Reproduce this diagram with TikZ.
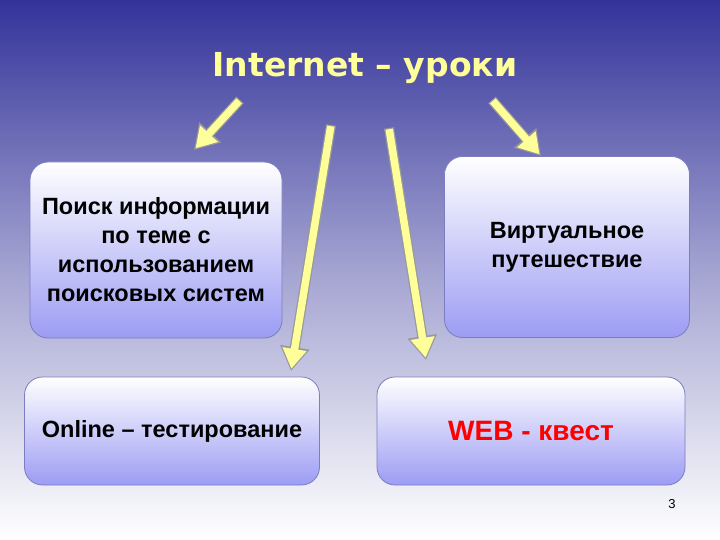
\documentclass[tikz,border=0pt]{standalone}
\usepackage{fontspec}
\setmainfont{Liberation Sans}
\newfontfamily\titlefont{DejaVu Sans}
\usetikzlibrary{arrows.meta}
\definecolor{bgtop}{HTML}{33339A}
\definecolor{boxb}{HTML}{9C9CF4}
\definecolor{edge}{HTML}{7C7CC0}
\definecolor{arr}{HTML}{FFFF99}
\definecolor{ttl}{HTML}{FFFF99}
\tikzset{
 box/.style={draw=edge,line width=0.8pt,rounded corners=18pt,top color=white,bottom color=boxb,align=center,font=\bfseries\fontsize{23.5}{29}\selectfont,inner sep=0pt},
 arrout/.style={draw=gray!80,line width=10pt,-{Triangle[width=28pt,length=24pt]}},
 arrin/.style={draw=arr,line width=7.5pt,-{Triangle[width=23pt,length=20pt]},shorten <=1.2pt,shorten >=2.2pt},
}
\begin{document}
\begin{tikzpicture}[x=1pt,y=-1pt]
\shade[top color=bgtop,bottom color=white,middle color=bgtop!45!white] (0,0) rectangle (720,540);
\useasboundingbox (0,0) rectangle (720,540);
\node[font=\titlefont\bfseries\fontsize{33}{38}\selectfont,text=ttl] (title) at (365,68) {Internet – уроки};
\node[box,minimum width=252pt,minimum height=176pt] (b1) at (156,250) {Поиск информации\\по теме с\\использованием\\поисковых систем};
\node[box,minimum width=245pt,minimum height=181pt] (b2) at (567,247) {Виртуальное\\путешествие};
\node[box,minimum width=295pt,minimum height=108pt] (b3) at (172,431) {Online – тестирование};
\node[box,minimum width=308pt,minimum height=108pt,font=\bfseries\fontsize{28}{32}\selectfont,text=red] (b4) at (531,431) {WEB - квест};
\node[font=\fontsize{13}{15}\selectfont] (num) at (672,504) {3};
\coordinate (s1) at (240,100); \coordinate (e1) at (194,150);
\coordinate (s2) at (331,125); \coordinate (e2) at (291,371);
\coordinate (s3) at (389,128); \coordinate (e3) at (426,360);
\coordinate (s4) at (492,100); \coordinate (e4) at (541,156);
\foreach \a/\b in {s1/e1,s2/e2,s3/e3,s4/e4}{
 \draw[arrout] (\a) -- (\b);
 \draw[arrin] (\a) -- (\b);
}
\end{tikzpicture}
\end{document}
